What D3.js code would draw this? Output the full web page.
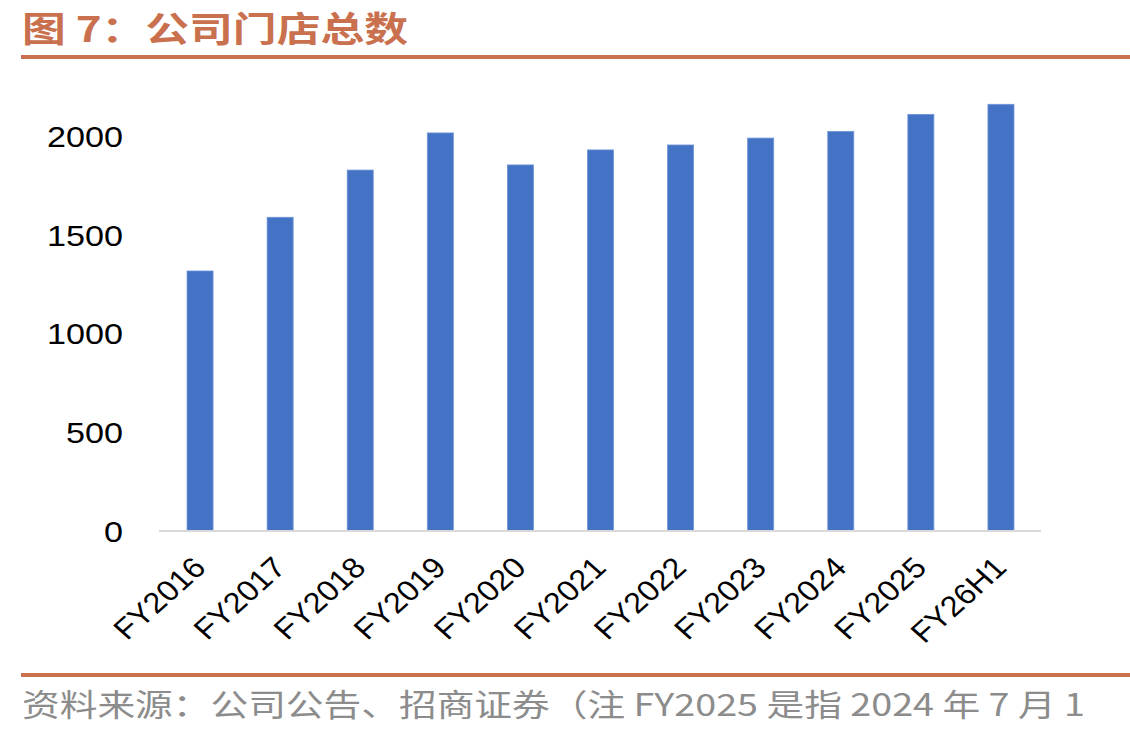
<!DOCTYPE html>
<html>
<head>
<meta charset="utf-8">
<script src="https://cdn.jsdelivr.net/npm/d3@7/dist/d3.min.js"></script>
<style>
  html, body { margin: 0; padding: 0; background: #fff; }
  svg { display: block; }
</style>
</head>
<body>
<svg id="chart" width="1130" height="735"></svg>
<script>
// ---- data ----
const categories = ["FY2016","FY2017","FY2018","FY2019","FY2020","FY2021","FY2022","FY2023","FY2024","FY2025","FY26H1"];
const storeCounts = [1314, 1586, 1825, 2013, 1851, 1927, 1952, 1987, 2021, 2107, 2158];
const yTicks = [0, 500, 1000, 1500, 2000];
const titleText = "图 7：公司门店总数";
const sourceText = "资料来源：公司公告、招商证券（注 FY2025 是指 2024 年 7 月 1";
const sourceText2 = "日至 2025 年 6 月 30 日）";

const svg = d3.select("#chart");
const accent = "#C9714F";

// title
svg.append("text")
  .attr("x", 22).attr("y", 42)
  .attr("font-family", "'Noto Sans CJK SC', sans-serif")
  .attr("font-weight", "bold")
  .attr("font-size", 35)
  .attr("fill", accent)
  .attr("textLength", 386)
  .attr("lengthAdjust", "spacingAndGlyphs")
  .text(titleText);

svg.append("rect").attr("x", 21).attr("y", 55).attr("width", 1109).attr("height", 4).attr("fill", accent);
svg.append("rect").attr("x", 21).attr("y", 673).attr("width", 1109).attr("height", 4).attr("fill", accent);

// scales
const x = d3.scaleBand().domain(categories).range([160, 1041]).paddingInner(0.675).paddingOuter(0.3375);
const y = d3.scaleLinear().domain([0, 2000]).range([530.5, 135.5]);

// bars
svg.append("g").selectAll("rect")
  .data(categories)
  .join("rect")
  .attr("x", d => x(d))
  .attr("width", x.bandwidth())
  .attr("y", (d, i) => y(storeCounts[i]))
  .attr("height", (d, i) => y(0) - y(storeCounts[i]))
  .attr("fill", "#4472C4")
  .attr("stroke", "#7196D8")
  .attr("stroke-width", 0.8);

// x axis line
svg.append("line")
  .attr("x1", 159).attr("x2", 1041)
  .attr("y1", 531).attr("y2", 531)
  .attr("stroke", "#D9D9D9").attr("stroke-width", 2);

// y axis
const yAxis = svg.append("g")
  .attr("transform", "translate(123,0)")
  .call(d3.axisLeft(y).tickValues(yTicks).tickSize(0).tickPadding(0).tickFormat(d3.format("d")));
yAxis.select(".domain").remove();
yAxis.selectAll("text")
  .attr("font-family", "'Liberation Sans', Arial, sans-serif")
  .attr("font-size", 30)
  .attr("fill", "#000")
  .attr("dy", "0.36em")
  .attr("textLength", d => String(d).length * 19)
  .attr("lengthAdjust", "spacingAndGlyphs");

// x labels
svg.append("g").selectAll("text")
  .data(categories)
  .join("text")
  .attr("transform", d => `translate(${x(d) + x.bandwidth() / 2 - 11},${553}) scale(1.12,1) rotate(-45)`)
  .attr("text-anchor", "end")
  .attr("dy", "0.8em")
  .attr("font-family", "'Liberation Sans', Arial, sans-serif")
  .attr("font-size", 29)
  .attr("fill", "#000")
  .text(d => d);

// source
svg.append("text")
  .attr("x", 22).attr("y", 716)
  .attr("font-family", "'Noto Sans CJK SC', sans-serif")
  .attr("font-size", 31)
  .attr("fill", "#8C8C8C")
  .attr("textLength", 1063)
  .attr("lengthAdjust", "spacingAndGlyphs")
  .text(sourceText);
svg.append("text")
  .attr("x", 22).attr("y", 762)
  .attr("font-family", "'Noto Sans CJK SC', sans-serif")
  .attr("font-size", 31)
  .attr("fill", "#8C8C8C")
  .text(sourceText2);
</script>
</body>
</html>
